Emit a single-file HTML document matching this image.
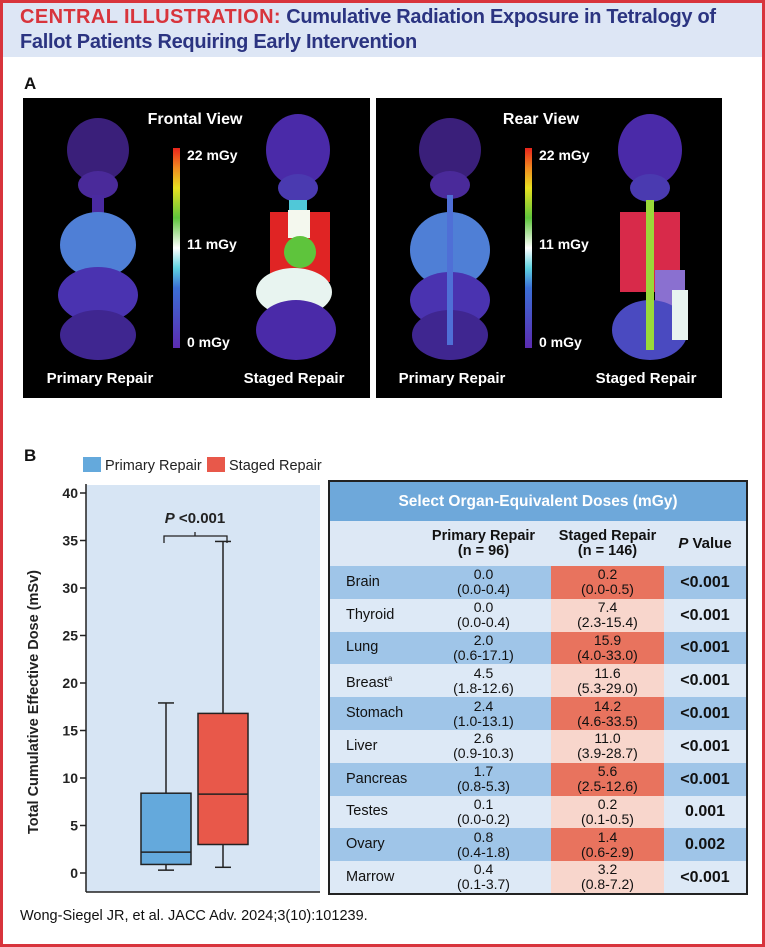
<!DOCTYPE html>
<html><head><meta charset="utf-8">
<style>
*{margin:0;padding:0;box-sizing:border-box}
body{width:765px;height:947px;background:#fff;font-family:"Liberation Sans",sans-serif;position:relative;overflow:hidden}
.frame{position:absolute;left:0;top:0;width:765px;height:947px;border:3px solid #d8343c}
.hdr{position:absolute;left:3px;top:3px;width:759px;height:54px;background:#dde6f5}
.title{position:absolute;left:20px;top:5px;font-size:20px;font-weight:bold;color:#2b3481;line-height:25px;letter-spacing:-0.3px}
.title .r{color:#d8343c;letter-spacing:0.4px}
.lab{position:absolute;font-weight:bold;font-size:17px;color:#111}
table{border-collapse:collapse;position:absolute;left:328px;top:480px;width:420px;border:2px solid #222;font-size:14px;color:#111}
td{text-align:center;line-height:15px;padding:0}
.cite{position:absolute;left:20px;top:908px;font-size:14.5px;color:#111}
</style></head><body>
<div class="frame"></div>
<div class="hdr"></div>
<div class="title"><span class="r">CENTRAL ILLUSTRATION:</span> Cumulative Radiation Exposure in Tetralogy of<br>Fallot Patients Requiring Early Intervention</div>
<div class="lab" style="left:24px;top:74px">A</div>
<div class="lab" style="left:24px;top:446px">B</div>

<svg style="position:absolute;left:0;top:0" width="765" height="420">
<defs>
<linearGradient id="cb" x1="0" y1="1" x2="0" y2="0">
<stop offset="0" stop-color="#5b2bb0"/><stop offset="0.3" stop-color="#3b6fd6"/><stop offset="0.4" stop-color="#5fd3e0"/><stop offset="0.5" stop-color="#ffffff"/><stop offset="0.65" stop-color="#5ec43c"/><stop offset="0.8" stop-color="#e8e020"/><stop offset="0.9" stop-color="#f08a20"/><stop offset="1" stop-color="#e8241c"/>
</linearGradient>
</defs>
<g>
<rect x="23" y="98" width="347" height="300" fill="#000"/>
<ellipse cx="98" cy="150" rx="31" ry="32" fill="#3a1f7a"/><ellipse cx="98" cy="185" rx="20" ry="14" fill="#4a2a9a"/>
<rect x="92" y="195" width="12" height="18" fill="#4a2aa0"/>
<ellipse cx="98" cy="245" rx="38" ry="33" fill="#4f7fd6"/><ellipse cx="98" cy="295" rx="40" ry="28" fill="#4a33b0"/><ellipse cx="98" cy="335" rx="38" ry="25" fill="#3f2690"/>
<ellipse cx="298" cy="150" rx="32" ry="36" fill="#4a2aa8"/><ellipse cx="298" cy="188" rx="20" ry="14" fill="#4a3ab0"/>
<rect x="289" y="200" width="18" height="10" fill="#50c8d8"/>
<rect x="270" y="212" width="60" height="70" fill="#e02424"/><rect x="288" y="210" width="22" height="28" fill="#f4f8ee"/><ellipse cx="300" cy="252" rx="16" ry="16" fill="#5ec43c"/>
<ellipse cx="294" cy="292" rx="38" ry="24" fill="#e8f4f0"/><ellipse cx="296" cy="330" rx="40" ry="30" fill="#4a2aa8"/>
<rect x="173" y="148" width="7" height="200" fill="url(#cb)"/>
<g fill="#fff" font-weight="bold" font-size="14">
<text x="195" y="124" text-anchor="middle" font-size="16">Frontal View</text>
<text x="187" y="160">22 mGy</text><text x="187" y="249">11 mGy</text><text x="187" y="347">0 mGy</text>
<text x="100" y="383" text-anchor="middle" font-size="15">Primary Repair</text>
<text x="294" y="383" text-anchor="middle" font-size="15">Staged Repair</text>
</g></g>
<g>
<rect x="376" y="98" width="346" height="300" fill="#000"/>
<ellipse cx="450" cy="150" rx="31" ry="32" fill="#3a1f7a"/><ellipse cx="450" cy="185" rx="20" ry="14" fill="#4a2a9a"/>
<ellipse cx="450" cy="250" rx="40" ry="38" fill="#4f7fd6"/><ellipse cx="450" cy="300" rx="40" ry="28" fill="#4a33b0"/><ellipse cx="450" cy="335" rx="38" ry="25" fill="#3f2690"/>
<rect x="447" y="195" width="6" height="150" fill="#4f6fd6"/>
<ellipse cx="650" cy="150" rx="32" ry="36" fill="#4a2aa8"/><ellipse cx="650" cy="188" rx="20" ry="14" fill="#4a3ab0"/>
<rect x="620" y="212" width="60" height="80" fill="#d82a4a"/><rect x="655" y="270" width="30" height="40" fill="#8a70d0"/>
<ellipse cx="650" cy="330" rx="38" ry="30" fill="#4a4ac0"/><rect x="672" y="290" width="16" height="50" fill="#e8f4f0"/>
<rect x="646" y="200" width="8" height="150" fill="#9ad83a"/>
<rect x="525" y="148" width="7" height="200" fill="url(#cb)"/>
<g fill="#fff" font-weight="bold" font-size="14">
<text x="541" y="124" text-anchor="middle" font-size="16">Rear View</text>
<text x="539" y="160">22 mGy</text><text x="539" y="249">11 mGy</text><text x="539" y="347">0 mGy</text>
<text x="452" y="383" text-anchor="middle" font-size="15">Primary Repair</text>
<text x="646" y="383" text-anchor="middle" font-size="15">Staged Repair</text>
</g></g>
</svg>

<svg id="bp" style="position:absolute;left:0;top:440px" width="330" height="460"></svg>

<table>
<tr style="height:40px;background:#6ea8da"><td colspan="4" style="color:#fff;font-weight:bold;font-size:15.5px">Select Organ-Equivalent Doses (mGy)</td></tr>
<tr style="height:45px;background:#dde8f5;font-weight:bold;font-size:14.5px"><td style="width:87px"></td><td style="width:135px">Primary Repair<br>(n = 96)</td><td style="width:113px">Staged Repair<br>(n = 146)</td><td style="font-size:15px"><i>P</i> Value</td></tr>
<tbody id="tb"></tbody>
</table>

<div class="cite">Wong-Siegel JR, et al. JACC Adv. 2024;3(10):101239.</div>

<script>
const groups=["Primary Repair","Staged Repair"];
const mins=[0.3,0.6];
const q1s=[0.9,3.0];
const medians=[2.2,8.3];
const q3s=[8.4,16.8];
const maxs=[17.9,34.9];
const yTicks=[0,5,10,15,20,25,30,35,40];
const colors=["#64a9dc","#e8584a"];
const NS="http://www.w3.org/2000/svg";
const svg=document.getElementById('bp');
function y(v){return 433-v*9.5;}
function xc(i){return 166+i*57;}
function mk(t,a,parent){const e=document.createElementNS(NS,t);for(const k in a)e.setAttribute(k,a[k]);(parent||svg).appendChild(e);return e;}
let bg=mk('rect',{x:86,y:45,width:234,height:407,fill:"#d7e5f4"});


mk('line',{x1:86,y1:44,x2:86,y2:452,stroke:"#222","stroke-width":1.5});
mk('line',{x1:86,y1:452,x2:320,y2:452,stroke:"#222","stroke-width":1.5});
yTicks.forEach(t=>{
 mk('line',{x1:80,y1:y(t),x2:86,y2:y(t),stroke:"#222","stroke-width":1.5});
 const tx=mk('text',{x:78,y:y(t)+5,"text-anchor":"end","font-size":14,"font-weight":"bold",fill:"#222"});
 tx.textContent=t;
 
 
});
const yt=mk('text',{x:0,y:0,transform:"translate(38,262) rotate(-90)","text-anchor":"middle","font-size":14.5,"font-weight":"bold",fill:"#222"});
yt.textContent="Total Cumulative Effective Dose (mSv)";


groups.forEach((g,i)=>{
 const c=xc(i),w=50;
 const G=mk('g',{});
 
 
 mk('line',{x1:c,y1:y(maxs[i]),x2:c,y2:y(mins[i]),stroke:"#222","stroke-width":1.5},G);
 mk('line',{x1:c-8,y1:y(maxs[i]),x2:c+8,y2:y(maxs[i]),stroke:"#222","stroke-width":1.5},G);
 mk('line',{x1:c-8,y1:y(mins[i]),x2:c+8,y2:y(mins[i]),stroke:"#222","stroke-width":1.5},G);
 mk('rect',{x:c-25,y:y(q3s[i]),width:w,height:y(q1s[i])-y(q3s[i]),fill:colors[i],stroke:"#222","stroke-width":1.5},G);
 mk('line',{x1:c-25,y1:y(medians[i]),x2:c+25,y2:y(medians[i]),stroke:"#222","stroke-width":1.5},G);
 const lx=83+i*124;
 const lr=mk('rect',{x:lx,y:17,width:18,height:15,fill:colors[i]});
 
 
 const lt=mk('text',{x:lx+22,y:30,"font-size":14.5,fill:"#222"});
 lt.textContent=g;
 
 
});
mk('path',{d:"M164,103 V96 H227 V103 M195,96 V92",stroke:"#222","stroke-width":1.3,fill:"none"});
const pt=mk('text',{x:195,y:83,"text-anchor":"middle","font-size":15,"font-weight":"bold",fill:"#222"});
pt.innerHTML='<tspan font-style="italic">P</tspan> &lt;0.001';



const organs=["Brain","Thyroid","Lung","Breast","Stomach","Liver","Pancreas","Testes","Ovary","Marrow"];
const primaryVals=["0.0","0.0","2.0","4.5","2.4","2.6","1.7","0.1","0.8","0.4"];
const primaryIQR=["0.0-0.4","0.0-0.4","0.6-17.1","1.8-12.6","1.0-13.1","0.9-10.3","0.8-5.3","0.0-0.2","0.4-1.8","0.1-3.7"];
const stagedVals=["0.2","7.4","15.9","11.6","14.2","11.0","5.6","0.2","1.4","3.2"];
const stagedIQR=["0.0-0.5","2.3-15.4","4.0-33.0","5.3-29.0","4.6-33.5","3.9-28.7","2.5-12.6","0.1-0.5","0.6-2.9","0.8-7.2"];
const pVals=["<0.001","<0.001","<0.001","<0.001","<0.001","<0.001","<0.001","0.001","0.002","<0.001"];
const tb=document.getElementById('tb');
organs.forEach((o,i)=>{
 const odd=i%2===0;
 const tr=document.createElement('tr');
 
 
 tr.style.height='32.8px';
 tr.style.background=odd?'#9fc5e8':'#dde9f6';
 tr.innerHTML='<td style="text-align:left;padding-left:16px;font-size:14.5px">'+o+(o==="Breast"?'<sup style="font-size:8px">a</sup>':'')+'</td>'+
 '<td>'+primaryVals[i]+'<br>('+primaryIQR[i]+')</td>'+
 '<td style="background:'+(odd?'#e8735e':'#f8d6cc')+'">'+stagedVals[i]+'<br>('+stagedIQR[i]+')</td>'+
 '<td style="font-weight:bold;font-size:16px">'+pVals[i].replace('<','&lt;')+'</td>';
 tb.appendChild(tr);
});
</script>
</body></html>
